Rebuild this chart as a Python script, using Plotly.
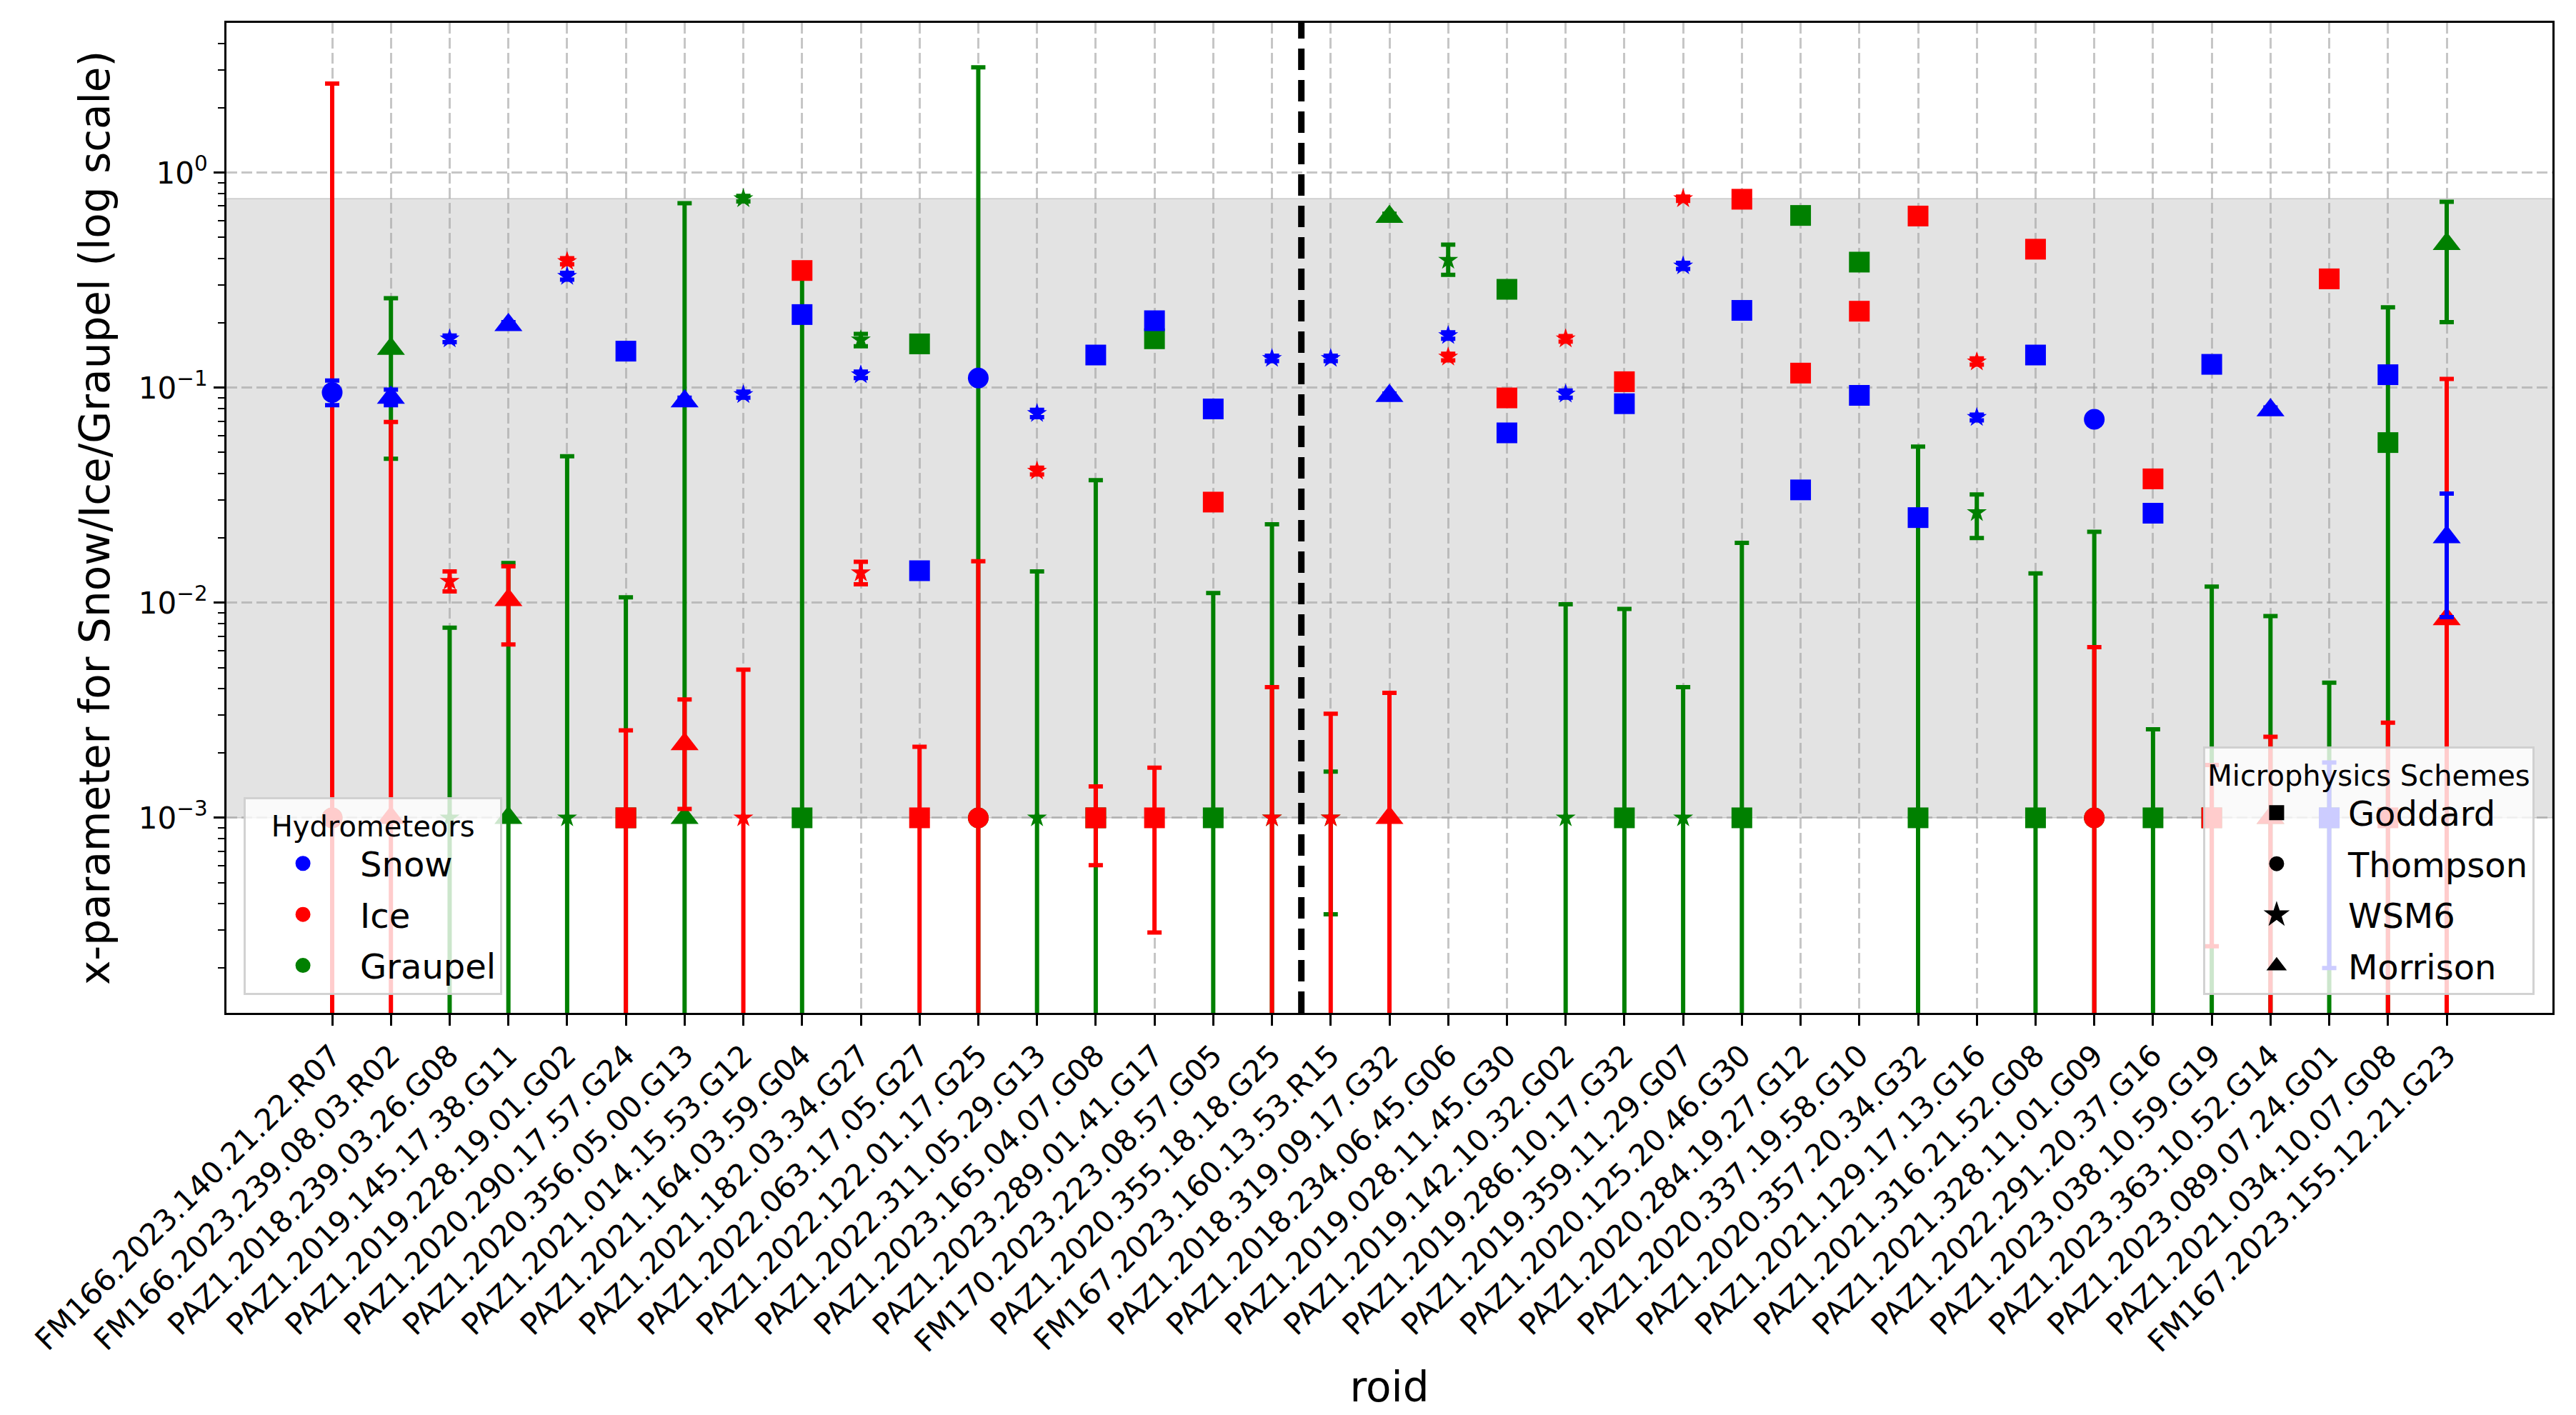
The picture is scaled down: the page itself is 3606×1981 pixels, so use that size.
import plotly.graph_objects as go

# ---- data ----
roids = [
    "FM166.2023.140.21.22.R07", "FM166.2023.239.08.03.R02", "PAZ1.2018.239.03.26.G08",
    "PAZ1.2019.145.17.38.G11", "PAZ1.2019.228.19.01.G02", "PAZ1.2020.290.17.57.G24",
    "PAZ1.2020.356.05.00.G13", "PAZ1.2021.014.15.53.G12", "PAZ1.2021.164.03.59.G04",
    "PAZ1.2021.182.03.34.G27", "PAZ1.2022.063.17.05.G27", "PAZ1.2022.122.01.17.G25",
    "PAZ1.2022.311.05.29.G13", "PAZ1.2023.165.04.07.G08", "PAZ1.2023.289.01.41.G17",
    "FM170.2023.223.08.57.G05", "PAZ1.2020.355.18.18.G25", "FM167.2023.160.13.53.R15",
    "PAZ1.2018.319.09.17.G32", "PAZ1.2018.234.06.45.G06", "PAZ1.2019.028.11.45.G30",
    "PAZ1.2019.142.10.32.G02", "PAZ1.2019.286.10.17.G32", "PAZ1.2019.359.11.29.G07",
    "PAZ1.2020.125.20.46.G30", "PAZ1.2020.284.19.27.G12", "PAZ1.2020.337.19.58.G10",
    "PAZ1.2020.357.20.34.G32", "PAZ1.2021.129.17.13.G16", "PAZ1.2021.316.21.52.G08",
    "PAZ1.2021.328.11.01.G09", "PAZ1.2022.291.20.37.G16", "PAZ1.2023.038.10.59.G19",
    "PAZ1.2023.363.10.52.G14", "PAZ1.2023.089.07.24.G01", "PAZ1.2021.034.10.07.G08",
    "FM167.2023.155.12.21.G23",
]

schemes = [
    "Thompson", "Morrison", "WSM6", "Morrison", "WSM6", "Goddard",
    "Morrison", "WSM6", "Goddard", "WSM6", "Goddard", "Thompson",
    "WSM6", "Goddard", "Goddard", "Goddard", "WSM6", "WSM6",
    "Morrison", "WSM6", "Goddard", "WSM6", "Goddard", "WSM6",
    "Goddard", "Goddard", "Goddard", "Goddard", "WSM6", "Goddard",
    "Thompson", "Goddard", "Goddard", "Morrison", "Goddard", "Goddard",
    "Morrison",
]

# value, lower and upper end of the error bar (None = no bar, 0 = runs off the axis)
snow_val = [0.095, 0.090, 0.169, 0.196, 0.330, 0.148, 0.0866, 0.093, 0.219, 0.115,
            0.0141, 0.111, 0.076, 0.142, 0.205, 0.0797, 0.137, 0.137, 0.0916, 0.175,
            0.0617, 0.0935, 0.0843, 0.369, 0.229, 0.0335, 0.0922, 0.0249, 0.0728, 0.142,
            0.0713, 0.0261, 0.1285, 0.0786, 0.001, 0.115, 0.0202]
snow_lo = [0.083, 0.083, 0.163, 0.190, 0.318, None, 0.0835, 0.090, None, 0.111,
           None, None, 0.073, None, None, None, 0.133, 0.133, 0.089, 0.169,
           None, 0.090, None, 0.357, None, None, None, None, 0.0705, None,
           None, None, None, 0.076, 0.0002, None, 0.00857]
snow_hi = [0.108, 0.098, 0.175, 0.202, 0.342, None, 0.090, 0.096, None, 0.119,
           None, None, 0.079, None, None, None, 0.141, 0.141, 0.094, 0.181,
           None, 0.097, None, 0.381, None, None, None, None, 0.075, None,
           None, None, None, 0.081, 0.00181, None, 0.0322]

ice_val = [0.001, 0.001, 0.0126, 0.0103, 0.387, 0.001, 0.0022, 0.001, 0.351, 0.0138,
           0.001, 0.001, 0.041, 0.001, 0.001, 0.0294, 0.001, 0.001, 0.001, 0.139,
           0.0897, 0.169, 0.1067, 0.758, 0.753, 0.117, 0.227, 0.629, 0.132, 0.441,
           0.001, 0.0377, 0.001, 0.001, 0.321, 0.001, 0.0084]
ice_lo = [0, 0, 0.0113, 0.0064, 0.375, 0, 0.0011, 0, None, 0.0122,
          0, 0, 0.0395, 0.000602, 0.000293, None, 0, 0, 0, 0.134,
          None, 0.164, None, 0.740, None, None, None, None, 0.128, None,
          0, None, 0.000253, 0, None, 0, 0]
ice_hi = [2.6, 0.0694, 0.0140, 0.0148, 0.400, 0.00255, 0.00355, 0.00489, None, 0.0155,
          0.00214, 0.0156, 0.0425, 0.0014, 0.00171, None, 0.00405, 0.00305, 0.00381, 0.144,
          None, 0.174, None, 0.775, None, None, None, None, 0.137, None,
          0.00622, None, 0.00176, 0.00238, None, 0.00277, 0.110]

graupel_val = [0.001, 0.152, 0.001, 0.001, 0.001, 0.001, 0.001, 0.758, 0.001, 0.167,
               0.160, 0.001, 0.001, 0.001, 0.169, 0.001, 0.001, 0.001, 0.624, 0.392,
               0.287, 0.001, 0.001, 0.001, 0.001, 0.633, 0.384, 0.001, 0.0263, 0.001,
               0.001, 0.001, 0.001, 0.001, 0.001, 0.0556, 0.467]
graupel_lo = [None, 0.0468, 0, 0, 0, 0, 0, 0.735, 0, 0.156,
              None, 0, 0, 0, None, 0, 0, 0.000356, 0.600, 0.335,
              None, 0, 0, 0, 0, None, None, 0, 0.020, 0,
              0, 0, 0, 0, 0, 0, 0.202]
graupel_hi = [None, 0.261, 0.00766, 0.0153, 0.048, 0.0106, 0.722, 0.780, 0.34, 0.178,
              None, 3.09, 0.014, 0.0372, None, 0.0111, 0.0232, 0.00164, 0.645, 0.463,
              None, 0.00984, 0.00937, 0.00405, 0.019, None, None, 0.0533, 0.0319, 0.0137,
              0.0214, 0.00258, 0.0119, 0.00868, 0.00425, 0.2366, 0.732]

scheme_names = ["Goddard", "Thompson", "WSM6", "Morrison"]
ytick_vals = [0.001, 0.01, 0.1, 1]
ytick_text = ["10<sup>\u22123</sup>", "10<sup>\u22122</sup>", "10<sup>\u22121</sup>", "10<sup>0</sup>"]
valid_band = [0.001, 0.759]
split_after = "PAZ1.2020.355.18.18.G25"

# ---- styling ----
FONT = "DejaVu Sans"
symbols = {"Goddard": "square", "Thompson": "circle", "WSM6": "star", "Morrison": "triangle-up"}
sizes = {"Goddard": 29, "Thompson": 29, "WSM6": 21, "Morrison": 34}

hydrometeors = [
    # graupel drawn first, snow on top (as in the reference)
    ("Graupel", "green", graupel_val, graupel_lo, graupel_hi),
    ("Ice", "red", ice_val, ice_lo, ice_hi),
    ("Snow", "blue", snow_val, snow_lo, snow_hi),
]

fig = go.Figure()

for name, color, vals, los, his in hydrometeors:
    for sch in scheme_names:
        idx = [i for i, s in enumerate(schemes) if s == sch]
        xs = [roids[i] for i in idx]
        ys = [vals[i] for i in idx]
        plus = [None if his[i] is None else his[i] - vals[i] for i in idx]
        minus = [None if los[i] is None else vals[i] - los[i] for i in idx]
        fig.add_trace(go.Scatter(
            x=xs, y=ys, mode="markers",
            marker=dict(symbol=symbols[sch], size=sizes[sch], color=color, line=dict(width=0)),
            error_y=dict(type="data", symmetric=False, array=plus, arrayminus=minus,
                         color=color, thickness=6, width=10),
            showlegend=False, name=f"{name} ({sch})",
        ))

# legend entries (one group each so rows can be spaced out)
for name, color, *_ in reversed(hydrometeors):
    fig.add_trace(go.Scatter(x=[None], y=[None], mode="markers", name=name, legendgroup=name,
                             marker=dict(symbol="circle", size=16, color=color,
                                         line=dict(width=5, color=color)),
                             legend="legend"))
for sch in scheme_names:
    fig.add_trace(go.Scatter(x=[None], y=[None], mode="markers", name=sch, legendgroup=sch,
                             marker=dict(symbol=symbols[sch], size=16, color="black",
                                         line=dict(width=5, color="black")),
                             legend="legend2"))

# shaded valid range and separator line
fig.add_shape(type="rect", xref="paper", x0=0, x1=1, yref="y",
              y0=valid_band[0], y1=valid_band[1],
              fillcolor="rgba(128,128,128,0.22)", line=dict(width=2, color="rgba(128,128,128,0.25)"),
              layer="below")
split_x = roids.index(split_after) + 0.5
fig.add_shape(type="line", xref="x", x0=split_x, x1=split_x, yref="paper", y0=0, y1=1,
              line=dict(color="black", width=9, dash="30px,14px"))

axis_common = dict(
    showline=True, linecolor="black", linewidth=3, mirror=True,
    ticks="outside", ticklen=15, tickwidth=3, tickcolor="black",
    showgrid=True, gridcolor="rgba(160,160,160,0.6)", gridwidth=3, griddash="15px,6px",
    zeroline=False, tickfont=dict(family=FONT, size=42, color="black"),
)

fig.update_xaxes(
    type="category", categoryorder="array", categoryarray=roids,
    range=[-1.8, 37.8], tickangle=-45,
    title=dict(text="roid", font=dict(family=FONT, size=58, color="black"), standoff=20),
    **axis_common,
)
fig.update_yaxes(
    type="log", range=[-3.907, 0.697],
    tickvals=ytick_vals, ticktext=ytick_text,
    minor=dict(ticks="outside", ticklen=9, tickwidth=2, tickcolor="black", dtick="D1", showgrid=False),
    title=dict(text="x-parameter for Snow/Ice/Graupel (log scale)",
               font=dict(family=FONT, size=58, color="black"), standoff=22),
    **axis_common,
)

legend_box = dict(bgcolor="rgba(255,255,255,0.8)", bordercolor="rgba(205,205,205,0.9)", borderwidth=3,
                  font=dict(family=FONT, size=48, color="black"), tracegroupgap=6,
                  yanchor="bottom", y=0.018)
fig.update_layout(
    width=3606, height=1981,
    margin=dict(l=317, r=33, t=32, b=563),
    paper_bgcolor="white", plot_bgcolor="white",
    font=dict(family=FONT, color="black"),
    legend=dict(title=dict(text="Hydrometeors", font=dict(family=FONT, size=40), side="top center"),
                x=0.0074, xanchor="left", itemwidth=150, **legend_box),
    legend2=dict(title=dict(text="Microphysics Schemes", font=dict(family=FONT, size=40), side="top center"),
                 x=0.9923, xanchor="right", itemwidth=190, **legend_box),
)

fig.write_html("out.html", config={"displayModeBar": False},
               post_script="document.body.style.margin='0';document.body.style.overflow='hidden';")
